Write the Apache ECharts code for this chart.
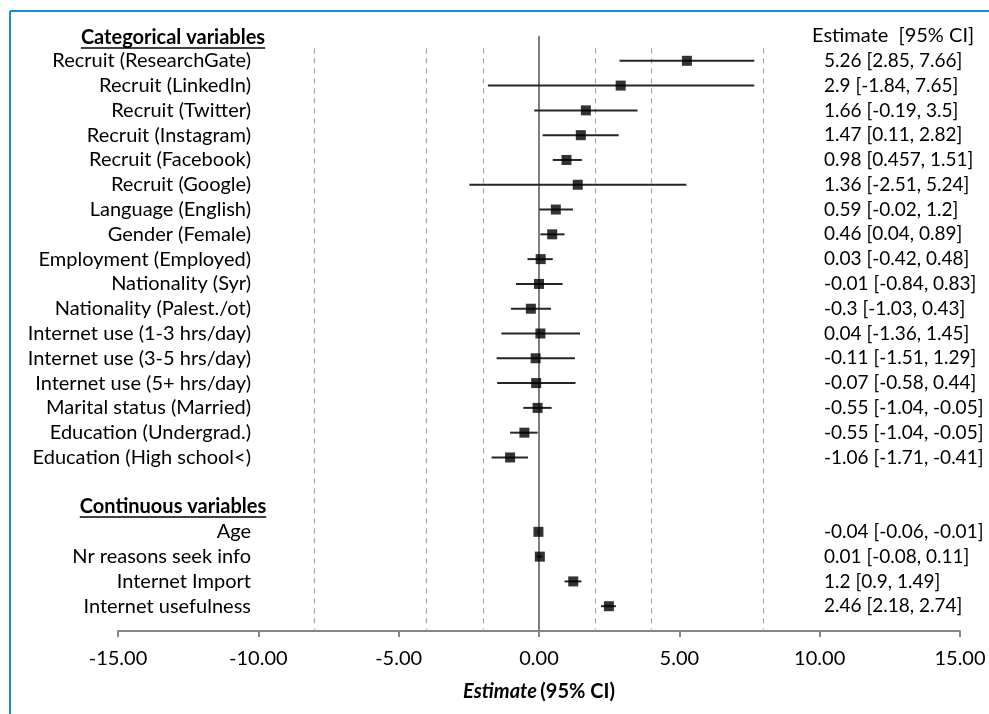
<!DOCTYPE html>
<html>
<head>
<meta charset="utf-8">
<script src="https://cdn.jsdelivr.net/npm/echarts@6/dist/echarts.min.js"></script>
<style>
html,body{margin:0;padding:0;background:#fff;}
#chart{width:989px;height:714px;}
</style>
</head>
<body>
<div id="chart"></div>
<script>
// ---- Data ----
const catHeader = 'Categorical variables';
const contHeader = 'Continuous variables';
const ciHeader = 'Estimate  [95% CI]';

const catLabels = ['Recruit (ResearchGate)','Recruit (LinkedIn)','Recruit (Twitter)','Recruit (Instagram)','Recruit (Facebook)','Recruit (Google)','Language (English)','Gender (Female)','Employment (Employed)','Nationality (Syr)','Nationality (Palest./ot)','Internet use (1-3 hrs/day)','Internet use (3-5 hrs/day)','Internet use (5+ hrs/day)','Marital status (Married)','Education (Undergrad.)','Education (High school<)'];
const catEst = [5.27, 2.91, 1.67, 1.49, 0.98, 1.38, 0.60, 0.47, 0.06, 0.00, -0.29, 0.05, -0.12, -0.10, -0.05, -0.52, -1.03];
const catLo  = [2.87, -1.82, -0.17, 0.13, 0.49, -2.48, 0.01, 0.05, -0.41, -0.82, -1.00, -1.34, -1.51, -1.49, -0.56, -1.03, -1.69];
const catHi  = [7.67, 7.67, 3.51, 2.84, 1.53, 5.25, 1.21, 0.91, 0.49, 0.84, 0.43, 1.46, 1.28, 1.30, 0.45, -0.05, -0.39];
const catText = ['5.26 [2.85, 7.66]','2.9 [-1.84, 7.65]','1.66 [-0.19, 3.5]','1.47 [0.11, 2.82]','0.98 [0.457, 1.51]','1.36 [-2.51, 5.24]','0.59 [-0.02, 1.2]','0.46 [0.04, 0.89]','0.03 [-0.42, 0.48]','-0.01 [-0.84, 0.83]','-0.3 [-1.03, 0.43]','0.04 [-1.36, 1.45]','-0.11 [-1.51, 1.29]','-0.07 [-0.58, 0.44]','-0.55 [-1.04, -0.05]','-0.55 [-1.04, -0.05]','-1.06 [-1.71, -0.41]'];

const contLabels = ['Age','Nr reasons seek info','Internet Import','Internet usefulness'];
const contEst = [-0.02, 0.03, 1.22, 2.49];
const contLo  = [-0.06, -0.08, 0.91, 2.21];
const contHi  = [-0.01, 0.11, 1.51, 2.74];
const contText = ['-0.04 [-0.06, -0.01]','0.01 [-0.08, 0.11]','1.2 [0.9, 1.49]','2.46 [2.18, 2.74]'];

const xTicks = [-15, -10, -5, 0, 5, 10, 15];
const refLines = [-8, -4, -2, 2, 4, 8];

// ---- Build rows (row 0 = categorical header, row 19 = continuous header, row 24 = axis) ----
const rowLabels = [''].concat(catLabels, ['', ''], contLabels, ['']);
const rowText = [''].concat(catText, ['', ''], contText, ['']);
const catStart = 1, contStart = catStart + catLabels.length + 2;
const points = [], bars = [];
catLabels.forEach((l, i) => { points.push([catEst[i], catStart + i]); bars.push([catLo[i], catHi[i], catStart + i]); });
contLabels.forEach((l, i) => { points.push([contEst[i], contStart + i]); bars.push([contLo[i], contHi[i], contStart + i]); });
const nRows = rowLabels.length - 1;

const FONT = 'Lato';
const chart = echarts.init(document.getElementById('chart'), null, {renderer: 'canvas'});

const markData = [
  [{coord: [0, 0], lineStyle: {type: 'solid', color: '#7f7f7f', width: 2}}, {coord: [0, nRows]}]
].concat(refLines.map(v => [{coord: [v, 0.5]}, {coord: [v, nRows]}]));

chart.setOption({
  animation: false,
  backgroundColor: '#fff',
  grid: [
    {left: 118, right: 29, top: 36, bottom: 83, containLabel: false},
    {left: 824, right: 0, top: 36, bottom: 83, containLabel: false}
  ],
  xAxis: [{
    type: 'value', min: -15, max: 15, interval: 5, gridIndex: 0,
    axisLine: {show: true, onZero: false, lineStyle: {color: '#868686', width: 2}},
    axisTick: {show: true, length: 6, lineStyle: {color: '#868686', width: 2}},
    splitLine: {show: false},
    axisLabel: {color: '#000', fontFamily: FONT, fontSize: 20, margin: 18,
      formatter: v => xTicks.indexOf(v) >= 0 ? v.toFixed(2) : ''},
    name: '{b|Estimate} {n|(95% CI)}',
    nameLocation: 'middle', nameGap: 51,
    nameTextStyle: {rich: {
      b: {fontFamily: FONT, fontSize: 20, fontWeight: 'bold', fontStyle: 'italic', color: '#000'},
      n: {fontFamily: FONT, fontSize: 20, fontWeight: 'bold', color: '#000'}
    }}
  }, {
    type: 'value', gridIndex: 1, show: false, min: 0, max: 1
  }],
  yAxis: [{
    type: 'value', inverse: true, min: 0, max: nRows, interval: 1, gridIndex: 0,
    position: 'left', offset: -133,
    axisLine: {show: false}, axisTick: {show: false}, splitLine: {show: false},
    axisLabel: {color: '#000', fontFamily: FONT, fontSize: 20, margin: 0, align: 'right',
      formatter: v => rowLabels[v] || ''}
  }, {
    type: 'value', inverse: true, min: 0, max: nRows, interval: 1, gridIndex: 1,
    position: 'left',
    axisLine: {show: false}, axisTick: {show: false}, splitLine: {show: false},
    axisLabel: {inside: true, color: '#000', fontFamily: FONT, fontSize: 19, margin: 0, align: 'left',
      formatter: v => rowText[v] || ''}
  }],
  series: [{
    type: 'custom', xAxisIndex: 0, yAxisIndex: 0,
    renderItem: (params, api) => {
      const a = api.coord([api.value(0), api.value(2)]);
      const b = api.coord([api.value(1), api.value(2)]);
      return {type: 'line', shape: {x1: a[0], y1: a[1], x2: b[0], y2: b[1]},
        style: {stroke: '#262626', lineWidth: 2}};
    },
    data: bars, z: 3, silent: true
  }, {
    type: 'scatter', symbol: 'rect', symbolSize: 10, xAxisIndex: 0, yAxisIndex: 0,
    itemStyle: {color: '#000'}, data: points, z: 4, silent: true,
    markLine: {
      silent: true, symbol: ['none', 'none'], label: {show: false},
      lineStyle: {type: [5, 5], color: '#a6a6a6', width: 1.2},
      data: markData, z: 1
    }
  }]
});

// headers & frame
function textWidth(str, font) {
  const c = document.createElement('canvas').getContext('2d');
  c.font = font; return c.measureText(str).width;
}
const hFont = 'bold 20px ' + FONT;
const hx = 173;
const y0 = chart.convertToPixel({yAxisIndex: 0}, 0);
const y19 = chart.convertToPixel({yAxisIndex: 0}, catStart + catLabels.length + 1);
const hdrs = [[catHeader, y0 + 2], [contHeader, y19]];
const graphics = [];
hdrs.forEach(([t, y]) => {
  const w = textWidth(t, hFont);
  graphics.push({type: 'text', x: hx, y: y, style: {text: t, font: hFont, fill: '#000', align: 'center', verticalAlign: 'middle'}});
  graphics.push({type: 'line', shape: {x1: hx - w / 2, y1: y + 10, x2: hx + w / 2, y2: y + 10}, style: {stroke: '#000', lineWidth: 1.5}});
});
graphics.push({type: 'text', x: 812, y: y0, style: {text: ciHeader, font: '20px ' + FONT, fill: '#000', align: 'left', verticalAlign: 'middle'}});
graphics.push({type: 'line', shape: {x1: 10, y1: 11, x2: 989, y2: 11}, style: {stroke: '#1b8bcb', lineWidth: 2}});
graphics.push({type: 'line', shape: {x1: 10, y1: 11, x2: 10, y2: 714}, style: {stroke: '#1b8bcb', lineWidth: 2}});
chart.setOption({graphic: graphics});
</script>
</body>
</html>
